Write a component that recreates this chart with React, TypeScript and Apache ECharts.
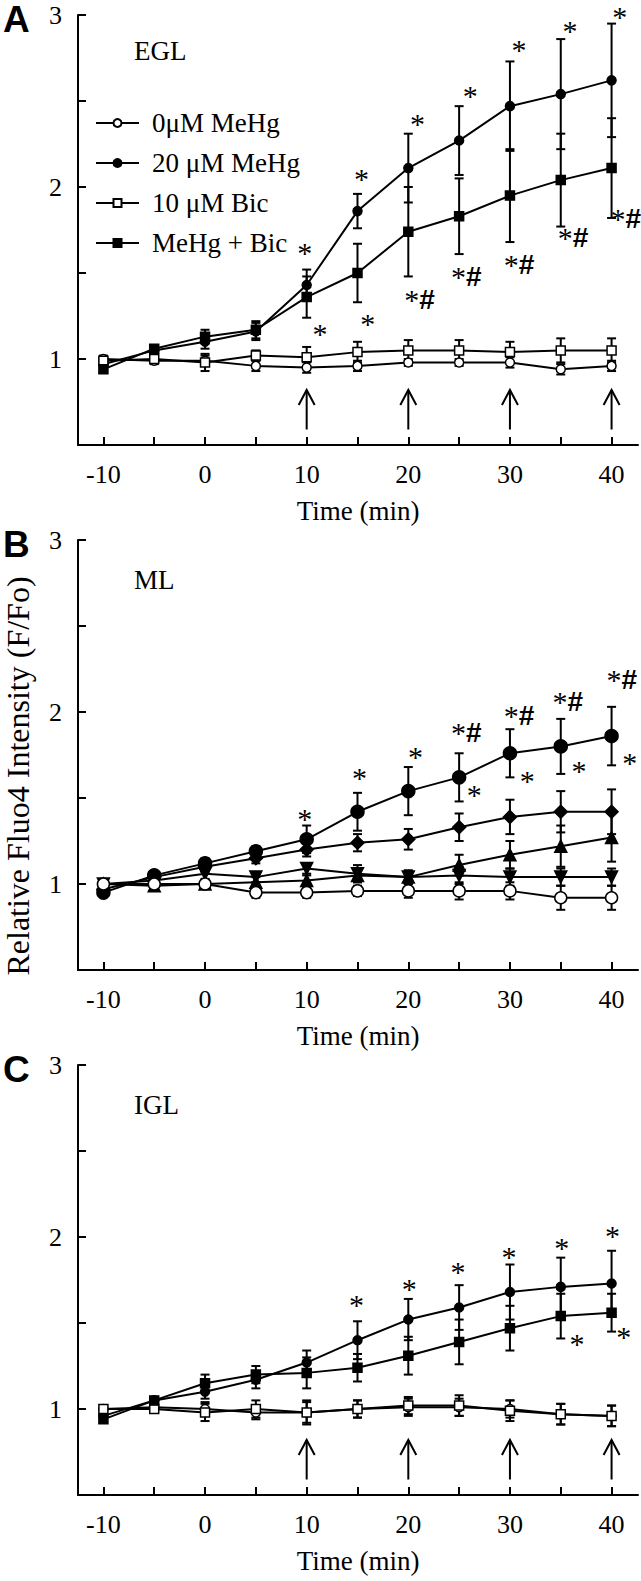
import React, { useEffect, useRef } from 'react';
import * as echarts from 'echarts';

// ---------- data ----------
const times = [-10, -5, 0, 5, 10, 15, 20, 25, 30, 35, 40];
const xTickValues = [-10, -5, 0, 5, 10, 15, 20, 25, 30, 35, 40];
const xLabelValues = [-10, 0, 10, 20, 30, 40];
const yTickValues = [1, 1.5, 2, 2.5, 3];
const yLabelValues = [1, 2, 3];
const arrowTimes = [10, 20, 30, 40];
const arrowFrom = 0.59;
const arrowTo = 0.82;

const legendNames = ['0μM MeHg', '20 μM MeHg', '10 μM Bic', 'MeHg + Bic'];

// Panel A (EGL)
const aCtrl = [1.0, 0.99, 0.99, 0.96, 0.95, 0.96, 0.98, 0.98, 0.98, 0.94, 0.96];
const aCtrlErr = [0.02, 0.02, 0.03, 0.03, 0.03, 0.03, 0.02, 0.02, 0.03, 0.03, 0.03];
const aMehg = [0.97, 1.05, 1.1, 1.16, 1.43, 1.86, 2.11, 2.27, 2.47, 2.54, 2.62];
const aMehgErr = [0.02, 0.02, 0.04, 0.05, 0.09, 0.1, 0.2, 0.2, 0.26, 0.32, 0.33];
const aBic = [0.99, 1.0, 0.98, 1.02, 1.01, 1.04, 1.05, 1.05, 1.04, 1.05, 1.05];
const aBicErr = [0.02, 0.02, 0.05, 0.03, 0.06, 0.06, 0.06, 0.06, 0.06, 0.07, 0.07];
const aMix = [0.94, 1.06, 1.13, 1.17, 1.36, 1.5, 1.74, 1.83, 1.95, 2.04, 2.11];
const aMixErr = [0.02, 0.02, 0.04, 0.05, 0.12, 0.17, 0.26, 0.22, 0.27, 0.27, 0.29];

// Panel B (ML)
const bCircle = [0.95, 1.05, 1.12, 1.19, 1.26, 1.42, 1.54, 1.62, 1.76, 1.8, 1.86];
const bCircleErr = [0.02, 0.02, 0.03, 0.03, 0.08, 0.11, 0.14, 0.14, 0.14, 0.16, 0.17];
const bDiamond = [0.97, 1.04, 1.1, 1.15, 1.2, 1.24, 1.26, 1.33, 1.39, 1.42, 1.42];
const bDiamondErr = [0.02, 0.02, 0.03, 0.03, 0.04, 0.05, 0.06, 0.08, 0.1, 0.12, 0.13];
const bUp = [1.0, 0.99, 1.0, 1.01, 1.02, 1.05, 1.04, 1.11, 1.17, 1.22, 1.27];
const bUpErr = [0.02, 0.02, 0.02, 0.03, 0.03, 0.04, 0.04, 0.06, 0.08, 0.12, 0.14];
const bDown = [1.0, 1.02, 1.06, 1.04, 1.09, 1.06, 1.04, 1.05, 1.04, 1.04, 1.04];
const bDownErr = [0.02, 0.02, 0.03, 0.03, 0.03, 0.05, 0.03, 0.05, 0.05, 0.05, 0.05];
const bOpen = [1.0, 1.0, 1.0, 0.95, 0.95, 0.96, 0.96, 0.96, 0.96, 0.92, 0.92];
const bOpenErr = [0.02, 0.02, 0.02, 0.03, 0.03, 0.03, 0.04, 0.05, 0.05, 0.07, 0.07];

// Panel C (IGL)
const cCtrl = [1.0, 1.01, 1.0, 0.98, 0.98, 1.0, 1.01, 1.01, 1.0, 0.97, 0.96];
const cCtrlErr = [0.02, 0.02, 0.04, 0.04, 0.06, 0.05, 0.05, 0.05, 0.05, 0.06, 0.06];
const cMehg = [0.96, 1.05, 1.1, 1.17, 1.27, 1.4, 1.52, 1.59, 1.68, 1.71, 1.73];
const cMehgErr = [0.02, 0.02, 0.04, 0.05, 0.07, 0.11, 0.12, 0.13, 0.16, 0.17, 0.19];
const cBic = [1.0, 1.0, 0.98, 1.0, 0.98, 1.0, 1.02, 1.02, 0.99, 0.97, 0.96];
const cBicErr = [0.02, 0.02, 0.05, 0.05, 0.07, 0.05, 0.05, 0.06, 0.06, 0.06, 0.06];
const cMix = [0.94, 1.05, 1.15, 1.2, 1.21, 1.24, 1.31, 1.39, 1.47, 1.54, 1.56];
const cMixErr = [0.02, 0.02, 0.05, 0.05, 0.09, 0.08, 0.11, 0.13, 0.13, 0.13, 0.11];

// significance marks: [time, value, text]
const annotA: [number, number, string][] = [
  [9.8, 1.66, '*'], [15.4, 2.09, '*'], [20.9, 2.41, '*'], [26.1, 2.57, '*'],
  [30.9, 2.84, '*'], [35.9, 2.95, '*'], [40.8, 3.03, '*'],
  [11.3, 1.19, '*'], [16.0, 1.25, '*'], [21.1, 1.36, '*#'], [25.7, 1.49, '*#'],
  [30.9, 1.56, '*#'], [36.2, 1.72, '*#'], [41.4, 1.83, '*#'],
];
const annotB: [number, number, string][] = [
  [9.8, 1.42, '*'], [15.2, 1.66, '*'], [20.7, 1.78, '*'], [25.7, 1.89, '*#'],
  [30.9, 1.99, '*#'], [35.7, 2.07, '*#'], [41.0, 2.2, '*#'],
  [26.5, 1.56, '*'], [31.7, 1.64, '*'], [36.8, 1.7, '*'], [41.8, 1.75, '*'],
];
const annotC: [number, number, string][] = [
  [14.9, 1.65, '*'], [20.1, 1.74, '*'], [24.9, 1.84, '*'], [29.9, 1.93, '*'],
  [35.1, 1.98, '*'], [40.1, 2.05, '*'],
  [36.6, 1.42, '*'], [41.2, 1.46, '*'],
];

const panelLetters = ['A', 'B', 'C'];
const panelTitles = ['EGL', 'ML', 'IGL'];
const yAxisTitle = 'Relative Fluo4 Intensity (F/Fo)';
const xAxisTitle = 'Time (min)';

// ---------- layout ----------
const W = 641;
const H = 1581;
const gridTops = [15, 540, 1065];
const gridH = 430;
const gridLeft = 78;
const gridW = 560;
const SERIF = '"Liberation Serif", "Times New Roman", serif';
const SANS = '"Liberation Sans", Arial, sans-serif';

function lineSeries(
  name: string, values: number[], g: number, symbol: string, size: number,
  filled: boolean, rotate = 0
) {
  return {
    type: 'line', name, xAxisIndex: g, yAxisIndex: g,
    data: times.map((t, i) => [t, values[i]]),
    symbol, symbolSize: size, symbolRotate: rotate, showSymbol: true,
    lineStyle: { color: '#000', width: 2 },
    itemStyle: { color: filled ? '#000' : '#fff', borderColor: '#000', borderWidth: 1.5 },
    z: 3,
  };
}

function errSeries(values: number[], errs: number[], g: number) {
  return {
    type: 'custom', xAxisIndex: g, yAxisIndex: g, silent: true, z: 2,
    data: times.map((t, i) => [t, values[i], errs[i]]),
    renderItem: (_p: any, api: any) => {
      const x = api.value(0), y = api.value(1), e = api.value(2);
      const top = api.coord([x, y + e]);
      const bot = api.coord([x, y - e]);
      const w = 4.5;
      const st = { stroke: '#000', lineWidth: 2 };
      return {
        type: 'group', children: [
          { type: 'line', shape: { x1: top[0], y1: top[1], x2: bot[0], y2: bot[1] }, style: st },
          { type: 'line', shape: { x1: top[0] - w, y1: top[1], x2: top[0] + w, y2: top[1] }, style: st },
          { type: 'line', shape: { x1: bot[0] - w, y1: bot[1], x2: bot[0] + w, y2: bot[1] }, style: st },
        ],
      };
    },
  };
}

function arrowSeries(g: number) {
  return {
    type: 'custom', xAxisIndex: g, yAxisIndex: g, silent: true, z: 2,
    data: arrowTimes.map((t) => [t, arrowFrom, arrowTo]),
    renderItem: (_p: any, api: any) => {
      const t = api.value(0);
      const b = api.coord([t, api.value(1)]);
      const h = api.coord([t, api.value(2)]);
      const st = { stroke: '#000', lineWidth: 2, fill: 'none' };
      return {
        type: 'group', children: [
          { type: 'line', shape: { x1: b[0], y1: b[1], x2: h[0], y2: h[1] }, style: st },
          { type: 'polyline', shape: { points: [[h[0] - 8, h[1] + 15], [h[0], h[1]], [h[0] + 8, h[1] + 15]] }, style: st },
        ],
      };
    },
  };
}

function annotSeries(list: [number, number, string][], g: number) {
  return {
    type: 'custom', xAxisIndex: g, yAxisIndex: g, silent: true, z: 4,
    data: list.map((a) => [a[0], a[1]]),
    renderItem: (params: any, api: any) => {
      const a = list[params.dataIndex];
      const p = api.coord([api.value(0), api.value(1)]);
      const hash = a[2].indexOf('#') >= 0;
      return {
        type: 'text', x: p[0], y: p[1] + (hash ? 2 : 7),
        style: {
          text: hash ? '{s|*}{h|#}' : '*',
          fill: '#000',
          font: '30px ' + SERIF,
          align: 'center', verticalAlign: 'middle',
          rich: {
            s: { fontSize: 30, fontFamily: SERIF, fill: '#000', verticalAlign: 'top' },
            h: { fontSize: 28, fontFamily: SANS, fontWeight: 'bold', fill: '#000' },
          },
        },
      };
    },
  };
}

function xAxisFor(g: number) {
  return {
    type: 'value', gridIndex: g, min: -12.5, max: 42.6,
    axisLine: { show: true, onZero: false, lineStyle: { color: '#000', width: 2 } },
    axisTick: { show: true, inside: true, length: 8, lineStyle: { color: '#000', width: 2 }, customValues: xTickValues },
    axisLabel: { customValues: xLabelValues, color: '#000', fontSize: 26, fontFamily: SERIF, margin: 16 },
    splitLine: { show: false },
    name: xAxisTitle, nameLocation: 'middle', nameGap: 52,
    nameTextStyle: { color: '#000', fontSize: 27, fontFamily: SERIF },
  };
}

function yAxisFor(g: number) {
  return {
    type: 'value', gridIndex: g, min: 0.5, max: 3,
    axisLine: { show: true, onZero: false, lineStyle: { color: '#000', width: 2 } },
    axisTick: { show: true, inside: true, length: 8, lineStyle: { color: '#000', width: 2 }, customValues: yTickValues },
    axisLabel: { customValues: yLabelValues, color: '#000', fontSize: 26, fontFamily: SERIF, margin: 16 },
    splitLine: { show: false },
  };
}

export default function App() {
  const ref = useRef<HTMLDivElement>(null);
  useEffect(() => {
    document.body.style.margin = '0';
    if (!ref.current) return;
    const chart = echarts.init(ref.current, undefined, { renderer: 'svg' });

    const series: any[] = [
      // panel A
      errSeries(aCtrl, aCtrlErr, 0), errSeries(aMehg, aMehgErr, 0),
      errSeries(aBic, aBicErr, 0), errSeries(aMix, aMixErr, 0),
      lineSeries(legendNames[0], aCtrl, 0, 'circle', 9, false),
      lineSeries(legendNames[1], aMehg, 0, 'circle', 9, true),
      lineSeries(legendNames[2], aBic, 0, 'rect', 9, false),
      lineSeries(legendNames[3], aMix, 0, 'rect', 9, true),
      arrowSeries(0), annotSeries(annotA, 0),
      // panel B
      errSeries(bCircle, bCircleErr, 1), errSeries(bDiamond, bDiamondErr, 1),
      errSeries(bUp, bUpErr, 1), errSeries(bDown, bDownErr, 1), errSeries(bOpen, bOpenErr, 1),
      lineSeries('ML circle', bCircle, 1, 'circle', 13, true),
      lineSeries('ML diamond', bDiamond, 1, 'diamond', 13, true),
      lineSeries('ML up', bUp, 1, 'triangle', 12, true),
      lineSeries('ML down', bDown, 1, 'triangle', 12, true, 180),
      lineSeries('ML open', bOpen, 1, 'circle', 12, false),
      annotSeries(annotB, 1),
      // panel C
      errSeries(cCtrl, cCtrlErr, 2), errSeries(cMehg, cMehgErr, 2),
      errSeries(cBic, cBicErr, 2), errSeries(cMix, cMixErr, 2),
      lineSeries(legendNames[0], cCtrl, 2, 'circle', 9, false),
      lineSeries(legendNames[1], cMehg, 2, 'circle', 9, true),
      lineSeries(legendNames[2], cBic, 2, 'rect', 9, false),
      lineSeries(legendNames[3], cMix, 2, 'rect', 9, true),
      arrowSeries(2), annotSeries(annotC, 2),
    ];

    const graphics: any[] = [];
    panelLetters.forEach((l, i) => {
      graphics.push({
        type: 'text', left: 3, top: gridTops[i] - 14,
        style: { text: l, font: 'bold 37px ' + SANS, fill: '#000' },
      });
      graphics.push({
        type: 'text', left: 134, top: gridTops[i] + 22 + (i === 0 ? 0 : 4),
        style: { text: panelTitles[i], font: '27px ' + SERIF, fill: '#000' },
      });
    });
    graphics.push({
      type: 'text', x: 18, y: 776, rotation: Math.PI / 2,
      style: { text: yAxisTitle, font: '32px ' + SERIF, fill: '#000', align: 'center', verticalAlign: 'middle' },
    });

    chart.setOption({
      animation: false,
      backgroundColor: '#fff',
      grid: gridTops.map((t) => ({ left: gridLeft, top: t, width: gridW, height: gridH })),
      xAxis: [0, 1, 2].map(xAxisFor),
      yAxis: [0, 1, 2].map(yAxisFor),
      legend: {
        data: legendNames, orient: 'vertical', left: 90, top: 103,
        itemWidth: 43, itemHeight: 10, itemGap: 10,
        textStyle: { color: '#000', fontSize: 27, fontFamily: SERIF, lineHeight: 30, padding: [0, 0, 0, 8] },
        selectedMode: false,
      },
      graphic: graphics,
      series,
    });
    return () => chart.dispose();
  }, []);
  return <div ref={ref} style={{ width: W, height: H }} />;
}
